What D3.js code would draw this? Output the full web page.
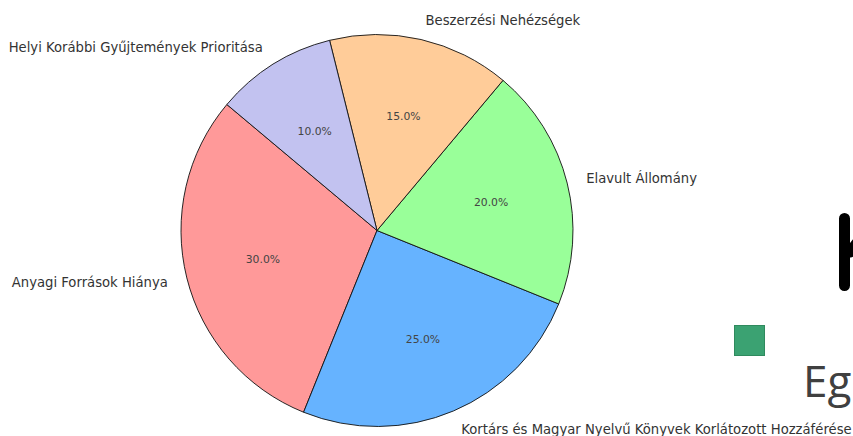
<!DOCTYPE html>
<html>
<head>
<meta charset="utf-8">
<script src="https://cdn.jsdelivr.net/npm/d3@7"></script>
<style>
  body { margin: 0; background: #fff; }
  svg { display: block; }
</style>
</head>
<body>
<div id="chart"></div>
<script>
// slices in matplotlib order (counterclockwise from startangle 140)
const categories = [
  "Anyagi Források Hiánya",
  "Kortárs és Magyar Nyelvű Könyvek Korlátozott Hozzáférése",
  "Elavult Állomány",
  "Beszerzési Nehézségek",
  "Helyi Korábbi Gyűjtemények Prioritása"
];
const values = [30, 25, 20, 15, 10];
const colors = ["#ff9999", "#66b3ff", "#99ff99", "#ffcc99", "#c2c2f0"];

const width = 853, height = 436;
const cx = 377, cy = 230.5, radius = 196;
const startDeg = 140;

const svg = d3.select("#chart").append("svg")
    .attr("width", width)
    .attr("height", height);

const total = d3.sum(values);
const data = categories.map((c, i) => ({ name: c, value: values[i], color: colors[i] }));

// d3 angles are clockwise from 12 o'clock; go counterclockwise like matplotlib
const start = (90 - startDeg) * Math.PI / 180;
const pie = d3.pie()
    .sort(null)
    .value(d => d.value)
    .startAngle(start)
    .endAngle(start - 2 * Math.PI);

const arc = d3.arc().innerRadius(0).outerRadius(radius);

const g = svg.append("g").attr("transform", `translate(${cx},${cy})`);
const arcs = pie(data);

g.selectAll("path")
  .data(arcs)
  .join("path")
    .attr("d", arc)
    .attr("fill", d => d.data.color)
    .attr("stroke", "#111")
    .attr("stroke-width", 0.9)
    .attr("stroke-linejoin", "round");

const mid = d => (d.startAngle + d.endAngle) / 2;

// outer labels at 1.1 r
g.append("g")
    .attr("font-family", "DejaVu Sans, sans-serif")
    .attr("font-size", 13.2)
    .attr("fill", "#333")
  .selectAll("text")
  .data(arcs)
  .join("text")
    .attr("x", d => Math.sin(mid(d)) * radius * 1.1)
    .attr("y", d => -Math.cos(mid(d)) * radius * 1.1)
    .attr("dy", "0.35em")
    .attr("text-anchor", d => Math.sin(mid(d)) < 0 ? "end" : "start")
    .text(d => d.data.name);

// percentages at 0.6 r
g.append("g")
    .attr("font-family", "DejaVu Sans, sans-serif")
    .attr("font-size", 10.8)
    .attr("fill", "#444")
    .attr("text-anchor", "middle")
  .selectAll("text")
  .data(arcs)
  .join("text")
    .attr("x", d => Math.sin(mid(d)) * radius * 0.6)
    .attr("y", d => -Math.cos(mid(d)) * radius * 0.6)
    .attr("dy", "0.35em")
    .text(d => (d.data.value / total * 100).toFixed(1) + "%");

// leftover slide fragments at the right edge
const deco = svg.append("g");
deco.append("path")
    .attr("d", "M844.5,218.5V285.5M850,252L880,214")
    .attr("fill", "none")
    .attr("stroke", "#000")
    .attr("stroke-width", 11)
    .attr("stroke-linecap", "round");
deco.append("rect")
    .attr("x", 734.5).attr("y", 325.5)
    .attr("width", 30).attr("height", 30)
    .attr("fill", "#3ba272")
    .attr("stroke", "#2f8a5e")
    .attr("stroke-width", 1);
deco.append("text")
    .attr("x", 803).attr("y", 397)
    .attr("font-family", "Open Sans, sans-serif")
    .attr("font-size", 44)
    .attr("fill", "#404040")
    .text("Eg");
</script>
</body>
</html>
